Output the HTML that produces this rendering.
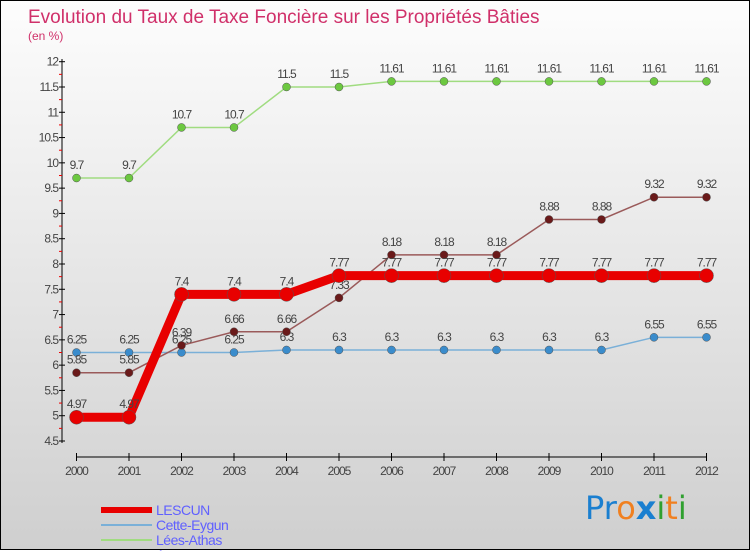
<!DOCTYPE html>
<html><head><meta charset="utf-8"><style>
body{margin:0;width:750px;height:550px;overflow:hidden;font-family:"Liberation Sans",sans-serif}
#wrap{position:relative;width:748px;height:548px;border:1px solid #000;background:linear-gradient(#fdfdfd,#cfcfcf)}
svg{position:absolute;left:0;top:0}
</style></head><body>
<div id="wrap">
<svg id="c" width="750" height="550">
<text x="27" y="22" font-size="19" fill="#d0306a">Evolution du Taux de Taxe Foncière sur les Propriétés Bâties</text>
<text x="27" y="39" font-size="12" fill="#d0306a">(en %)</text>
<text x="584" y="518" font-size="32" font-family="DejaVu Sans"><tspan fill="#1a7fd0">Pr</tspan><tspan fill="#f08020">o</tspan><tspan fill="#1a7fd0" font-weight="bold">x</tspan><tspan fill="#30a030">i</tspan><tspan fill="#f08020">t</tspan><tspan fill="#30a030">i</tspan></text>
</svg></div>
<script>
const years=[2000,2001,2002,2003,2004,2005,2006,2007,2008,2009,2010,2011,2012];
const yTicks=[4.5,5,5.5,6,6.5,7,7.5,8,8.5,9,9.5,10,10.5,11,11.5,12];
const lescun=[4.97,4.97,7.4,7.4,7.4,7.77,7.77,7.77,7.77,7.77,7.77,7.77,7.77];
const cette=[6.25,6.25,6.25,6.25,6.3,6.3,6.3,6.3,6.3,6.3,6.3,6.55,6.55];
const lees=[9.7,9.7,10.7,10.7,11.5,11.5,11.61,11.61,11.61,11.61,11.61,11.61,11.61];
const accous=[5.85,5.85,6.39,6.66,6.66,7.33,8.18,8.18,8.18,8.88,8.88,9.32,9.32];
const svg=document.getElementById('c');const NS='http://www.w3.org/2000/svg';
const X=i=>75.5+i*52.5, Y=v=>60.7+(12-v)*(379.3/7.5);
function mk(t,a,p){const e=document.createElementNS(NS,t);for(const k in a)e.setAttribute(k,a[k]);(p||svg).appendChild(e);return e;}
let e=mk('line',{x1:61,y1:58,x2:61,y2:442,stroke:'#000'});


for(let v=4.5;v<12;v+=0.25){if(Math.abs(v*2-Math.round(v*2))>0.01)mk('line',{x1:58,x2:61,y1:Y(v),y2:Y(v),stroke:'#e00'});}
yTicks.forEach(v=>{mk('line',{x1:58,x2:64,y1:Y(v),y2:Y(v),stroke:'#000'});
const t=mk('text',{x:57,y:Y(v)+4,'font-size':12,'text-anchor':'end',fill:'#444','letter-spacing':'-1'});t.textContent=v;

});
e=mk('line',{x1:X(0),y1:456,x2:X(12),y2:456,stroke:'#000'});


years.forEach((y,i)=>{mk('line',{x1:X(i),x2:X(i),y1:452,y2:460,stroke:'#000'});
const t=mk('text',{x:X(i),y:474,'font-size':12,'text-anchor':'middle',fill:'#444','letter-spacing':'-1'});t.textContent=y;

});
function series(d,name,col,w,r,dot){const g=mk('g',{});


mk('polyline',{points:d.map((v,i)=>X(i)+','+Y(v)).join(' '),fill:'none',stroke:col,'stroke-width':w},g);
d.forEach((v,i)=>{const c=mk('circle',{cx:X(i),cy:Y(v),r:r,fill:dot,stroke:'#555','stroke-width':0.5},g);


const t=mk('text',{x:X(i),y:Y(v)-9,'font-size':12,'text-anchor':'middle',fill:'#444','letter-spacing':'-1'},g);t.textContent=v;

});}
series(lees,'lees-athas','#a0dc80',1.5,4,'#6cc840');
series(cette,'cette-eygun','#7ab0d8',1.5,4,'#3a8ccc');
series(accous,'accous','#9a5a5a',1.5,4,'#6a1a1a');
series(lescun,'lescun','#e80000',9,7,'#e80000');
const leg=[['LESCUN','#e80000',6],['Cette-Eygun','#7ab0d8',2],['Lées-Athas','#a0dc80',2],['Accous','#9a5a5a',2]];
leg.forEach((l,i)=>{const y=513+i*15;const g=mk('g',{});


mk('line',{x1:100,x2:151,y1:y-4,y2:y-4,stroke:l[1],'stroke-width':l[2]},g);
const t=mk('text',{x:155,y:y+1,'font-size':14,fill:'#6060ff','letter-spacing':'-0.5'},g);t.textContent=l[0];});
</script></body></html>
